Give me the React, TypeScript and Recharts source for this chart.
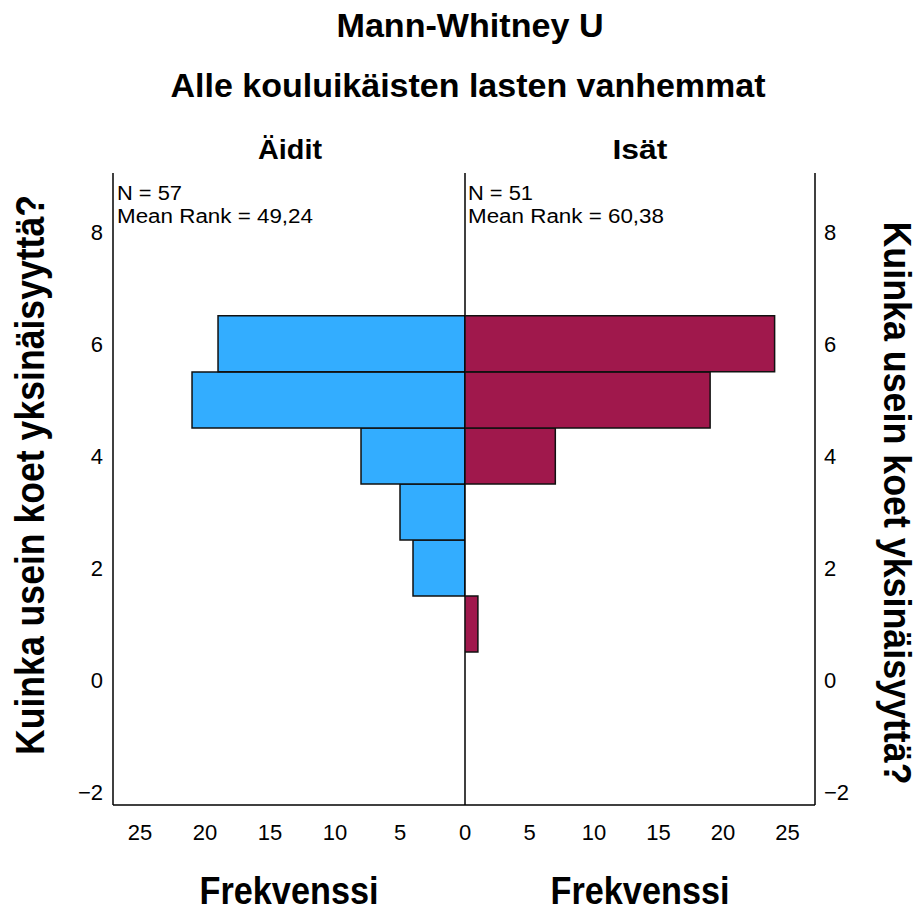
import React from "react";
import { BarChart, Bar, XAxis, YAxis, ReferenceLine } from "recharts";

// Response levels (1..6) and frequencies per group
const levels = [1, 2, 3, 4, 5, 6];
const mothers = [0, 4, 5, 8, 21, 19];
const fathers = [1, 0, 0, 7, 19, 24];

const yTicks = [-2, 0, 2, 4, 6, 8];
const leftXTicks = [0, 5, 10, 15, 20, 25];
const rightXTicks = [5, 10, 15, 20, 25];

const mothersStats = { n: "N = 57", rank: "Mean Rank = 49,24" };
const fathersStats = { n: "N = 51", rank: "Mean Rank = 60,38" };

const leftRows = levels.map((level, i) => ({ level, count: mothers[i] }));
const rightRows = levels.map((level, i) => ({ level, count: fathers[i] }));

const FONT = "'Liberation Sans', Arial, sans-serif";
const Y_DOMAIN: [number, number] = [-2.23, 9.05];
const axisLine = { stroke: "#000", strokeWidth: 1.5 };
const tickStyle = { fill: "#000", fontSize: 22, fontFamily: FONT };
// proper minus sign on negative ticks
const fmtY = (v: number) => (v < 0 ? `\u2212${Math.abs(v)}` : `${v}`);

export default function App() {
  return (
    <div
      style={{
        position: "absolute",
        left: 0,
        top: 0,
        width: 920,
        height: 911,
        background: "#fff",
        fontFamily: FONT,
      }}
    >
      <div style={{ position: "absolute", left: 0, top: 0 }}>
        <BarChart
          width={490}
          height={911}
          data={leftRows}
          layout="vertical"
          margin={{ top: 173, right: 25, bottom: 66, left: 0 }}
          barCategoryGap={0}
        >
          <XAxis
            type="number"
            domain={[0, 27.08]}
            reversed
            ticks={leftXTicks}
            interval={0}
            allowDataOverflow
            height={40}
            tickLine={false}
            tickSize={0}
            tickMargin={19}
            axisLine={axisLine}
            tick={tickStyle}
          />
          <YAxis
            type="number"
            dataKey="level"
            domain={Y_DOMAIN}
            reversed
            ticks={yTicks}
            tickFormatter={fmtY}
            interval={0}
            allowDataOverflow
            width={113}
            tickLine={false}
            tickSize={0}
            tickMargin={10}
            axisLine={axisLine}
            tick={tickStyle}
          />
          <ReferenceLine x={0} stroke="#000" strokeWidth={1.5} />
          <Bar
            dataKey="count"
            fill="#33adff"
            stroke="#111"
            strokeWidth={1.5}
            isAnimationActive={false}
          />
        </BarChart>
      </div>

      <div style={{ position: "absolute", left: 465, top: 0 }}>
        <BarChart
          width={455}
          height={911}
          data={rightRows}
          layout="vertical"
          margin={{ top: 173, right: 45, bottom: 66, left: 0 }}
          barCategoryGap={0}
        >
          <XAxis
            type="number"
            domain={[0, 27.13]}
            ticks={rightXTicks}
            interval={0}
            allowDataOverflow
            height={40}
            tickLine={false}
            tickSize={0}
            tickMargin={19}
            axisLine={axisLine}
            tick={tickStyle}
          />
          <YAxis
            type="number"
            dataKey="level"
            orientation="right"
            domain={Y_DOMAIN}
            reversed
            ticks={yTicks}
            tickFormatter={fmtY}
            interval={0}
            allowDataOverflow
            width={60}
            tickLine={false}
            tickSize={0}
            tickMargin={9}
            axisLine={axisLine}
            tick={tickStyle}
          />
          <Bar
            dataKey="count"
            fill="#a0184c"
            stroke="#111"
            strokeWidth={1.5}
            isAnimationActive={false}
          />
        </BarChart>
      </div>

      {/* titles, panel headers, stats and axis titles */}
      <svg
        width={920}
        height={911}
        style={{ position: "absolute", left: 0, top: 0, pointerEvents: "none" }}
        fontFamily={FONT}
        fill="#000"
      >
        <text x={470} y={37} textAnchor="middle" fontSize={34} fontWeight="bold"
          textLength={267} lengthAdjust="spacingAndGlyphs">
          Mann-Whitney U
        </text>
        <text x={468} y={97} textAnchor="middle" fontSize={34} fontWeight="bold"
          textLength={595} lengthAdjust="spacingAndGlyphs">
          Alle kouluikäisten lasten vanhemmat
        </text>

        <text x={290} y={159} textAnchor="middle" fontSize={27} fontWeight="bold"
          textLength={64} lengthAdjust="spacingAndGlyphs">
          Äidit
        </text>
        <text x={640} y={159} textAnchor="middle" fontSize={27} fontWeight="bold"
          textLength={55} lengthAdjust="spacingAndGlyphs">
          Isät
        </text>

        <text x={117} y={200} fontSize={20} textLength={65} lengthAdjust="spacingAndGlyphs">
          {mothersStats.n}
        </text>
        <text x={117} y={223} fontSize={20} textLength={196} lengthAdjust="spacingAndGlyphs">
          {mothersStats.rank}
        </text>
        <text x={468} y={200} fontSize={20} textLength={65} lengthAdjust="spacingAndGlyphs">
          {fathersStats.n}
        </text>
        <text x={468} y={223} fontSize={20} textLength={196} lengthAdjust="spacingAndGlyphs">
          {fathersStats.rank}
        </text>

        <text x={289} y={904} textAnchor="middle" fontSize={38} fontWeight="bold"
          textLength={179} lengthAdjust="spacingAndGlyphs">
          Frekvenssi
        </text>
        <text x={640} y={904} textAnchor="middle" fontSize={38} fontWeight="bold"
          textLength={179} lengthAdjust="spacingAndGlyphs">
          Frekvenssi
        </text>

        <text transform="translate(44,475) rotate(-90)" textAnchor="middle"
          fontSize={40} fontWeight="bold" textLength={560} lengthAdjust="spacingAndGlyphs">
          Kuinka usein koet yksinäisyyttä?
        </text>
        <text transform="translate(884,503) rotate(90)" textAnchor="middle"
          fontSize={38} fontWeight="bold" textLength={563} lengthAdjust="spacingAndGlyphs">
          Kuinka usein koet yksinäisyyttä?
        </text>
      </svg>
    </div>
  );
}
